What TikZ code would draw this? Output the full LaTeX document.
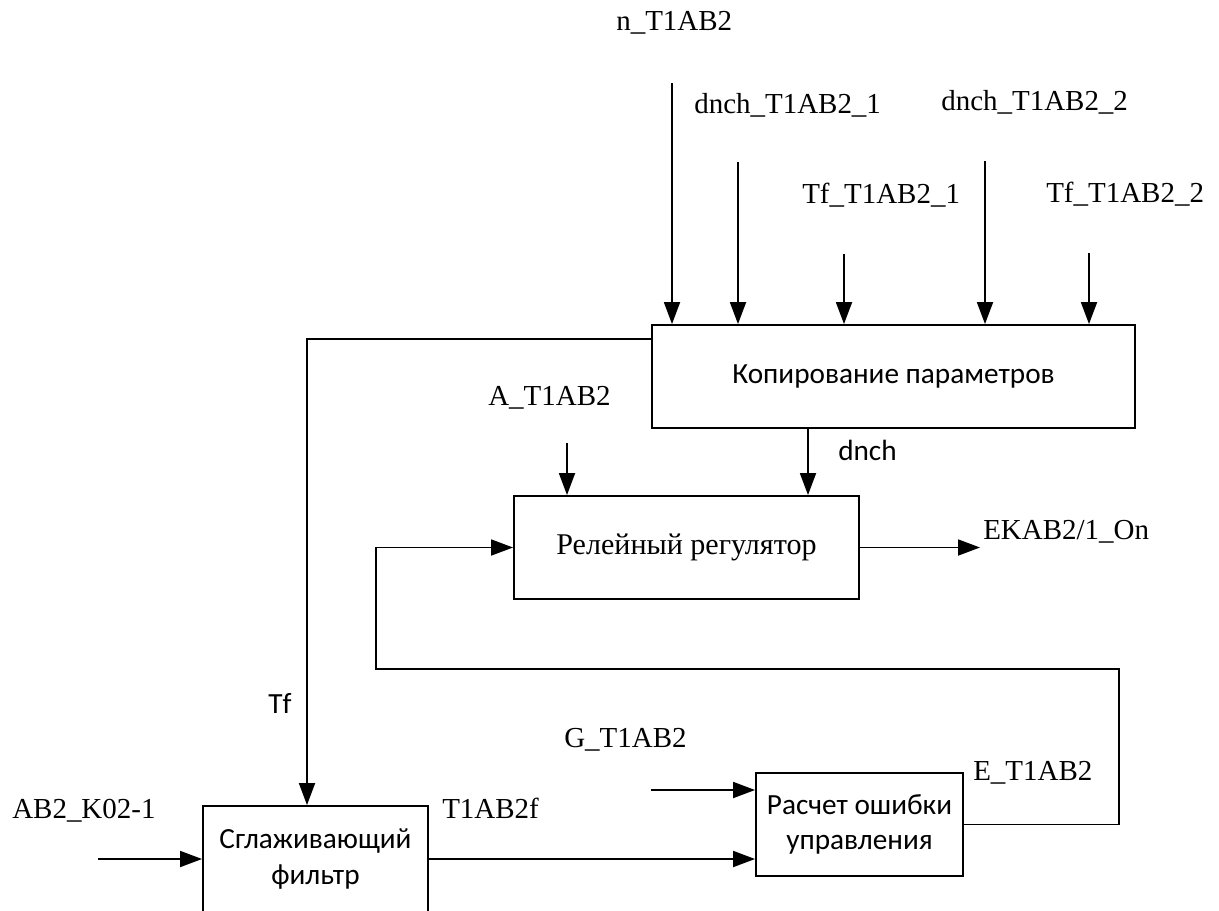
\documentclass[tikz,border=0pt]{standalone}
\usepackage{fontspec}
\setmainfont{Liberation Serif}
\newfontfamily\calfont{Carlito}
\usetikzlibrary{arrows.meta,positioning}

\tikzset{
  blok/.style={draw, line width=1.3pt, inner sep=0pt, align=center},
  cal/.style={font={\calfont\fontsize{20.8}{25}\selectfont}},
  sig/.style={line width=1.3pt, -{Triangle[length=5.5mm,width=4mm]}},
  lbl/.style={anchor=base west, inner sep=0pt},
}

\begin{document}
\begin{tikzpicture}[x=0.025cm, y=-0.025cm, font=\fontsize{20.6}{25}\selectfont]
\useasboundingbox (0,0) rectangle (1219,910);

% blocks
\node[blok, cal, minimum width=12.075cm, minimum height=2.575cm] (copy) at (893.5,376.5) {Копирование параметров};
\node[blok, minimum width=8.625cm, minimum height=2.575cm, font=\fontsize{21.4}{25}\selectfont] (relay) at (686.5,547.5) {Релейный регулятор};
\node[blok, cal, minimum width=5.625cm, minimum height=2.65cm] (filter) at (315.5,859) {Сглаживающий\\фильтр};
\node[blok, cal, minimum width=5.175cm, minimum height=2.575cm] (err) at (859.5,824.5) {Расчет ошибки\\управления};

% inputs of the copy block
\foreach \nm/\xx/\yy in {n/672/83, d1/738/162, t1/844/254, d2/985/161, t2/1089/253}{
  \coordinate (in-\nm) at (\xx,\yy);
  \draw[sig] (in-\nm) -- (in-\nm |- copy.north);
}
\node[lbl] (lab-n) at (616,30) {n\_T1AB2};
\node[lbl] (lab-d1) at (694,113) {dnch\_T1AB2\_1};
\node[lbl] (lab-t1) at (802,203) {Tf\_T1AB2\_1};
\node[lbl] (lab-d2) at (941,110) {dnch\_T1AB2\_2};
\node[lbl] (lab-t2) at (1046,202) {Tf\_T1AB2\_2};

% relay regulator
\coordinate (dnch-x) at (808,0);
\draw[sig] (copy.south -| dnch-x) -- (relay.north -| dnch-x);
\node[lbl, cal] (lab-dnch) at (838,460) {dnch};
\coordinate (in-a) at (567,443);
\draw[sig] (in-a) -- (in-a |- relay.north);
\node[lbl] (lab-a) at (488,405) {A\_T1AB2};
\coordinate (out-ek) at (980,0);
\draw[sig] (relay.east) -- (relay.east -| out-ek);
\node[lbl] (lab-ek) at (983,539) {EKAB2/1\_On};

% filter time constant
\coordinate (tf-x) at (307,0);
\draw[sig] ([yshift=-0.375cm]copy.north west) -| (filter.north -| tf-x);
\node[lbl, cal] (lab-tf) at (268,713) {Tf};

% filter and error
\coordinate (in-ab) at (98,859);
\draw[sig] (in-ab) -- (filter.west);
\node[lbl] (lab-ab) at (12,818) {AB2\_K02-1};
\draw[sig] (filter.east) -- (filter.east -| err.west);
\node[lbl] (lab-f) at (442,818) {T1AB2f};
\coordinate (in-g) at (651,790);
\draw[sig] (in-g) -- (in-g -| err.west);
\node[lbl] (lab-g) at (564,747) {G\_T1AB2};
\node[lbl] (lab-e) at (973,780) {E\_T1AB2};

% feedback loop
\coordinate (fb-r) at (1119,669);
\coordinate (fb-l) at (376,669);
\draw[sig] (err.east) -| (fb-r) -- (fb-l) |- (relay.west);
\end{tikzpicture}
\end{document}
